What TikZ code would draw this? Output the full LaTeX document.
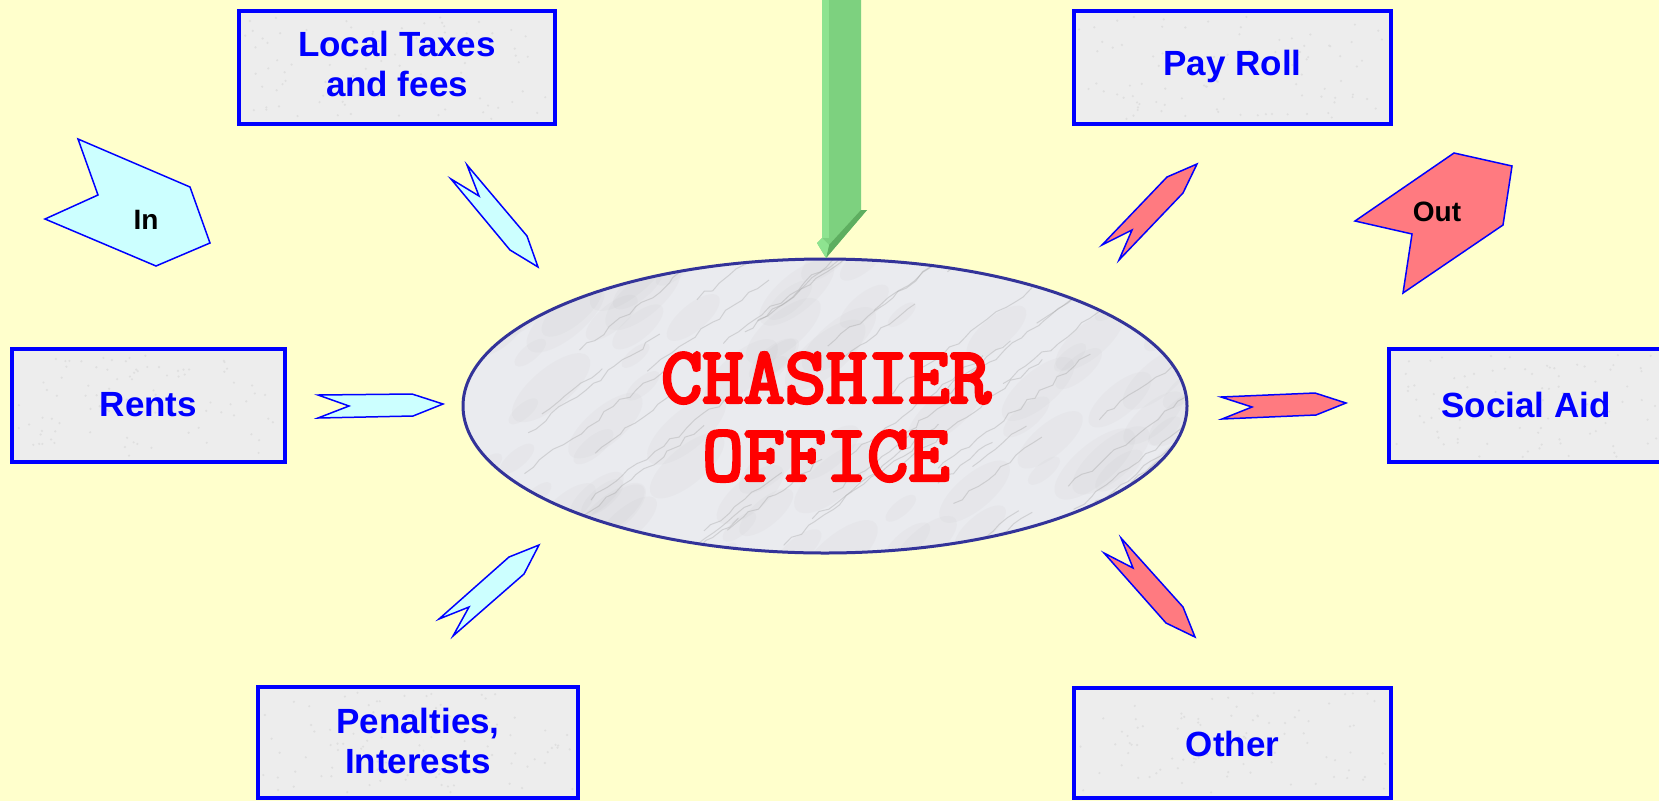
\documentclass[tikz,border=0pt]{standalone}
\usepackage{fontspec}
\setmainfont{Liberation Sans}
\newfontfamily\courfont[FakeBold=4]{Latin Modern Mono}
\usetikzlibrary{shapes.geometric,decorations.pathmorphing}
\definecolor{bg}{HTML}{FFFFCC}
\definecolor{boxblue}{HTML}{0000FF}
\definecolor{boxgray}{HTML}{EDEDED}
\definecolor{ellblue}{HTML}{333399}
\definecolor{marble}{HTML}{EAEBEF}
\definecolor{incol}{HTML}{CCFFFF}
\definecolor{outcol}{HTML}{FF7A80}
\definecolor{gmain}{HTML}{7DD17F}
\definecolor{glight}{HTML}{8EE390}
\definecolor{gdark}{HTML}{5EAE60}
\definecolor{titlered}{HTML}{FF0000}
\tikzset{
  box/.style={draw=boxblue, line width=3.5pt, fill=boxgray, inner sep=0pt},
  boxtext/.style={text=boxblue, font=\fontsize{35}{40}\selectfont\bfseries, align=center},
  inarrow/.style={draw=boxblue, fill=incol, line width=1.5pt, line join=miter},
  outarrow/.style={draw=boxblue, fill=outcol, line width=1.5pt, line join=miter},
  tagtext/.style={text=black, font=\fontsize{28}{30}\selectfont\bfseries},
  vein/.style={gray!75, line width=1pt, opacity=0.35, decorate,
    decoration={random steps, segment length=10pt, amplitude=2.5pt}},
  blob/.style={fill=gray!60, opacity=0.07}
}
\begin{document}
\begin{tikzpicture}[x=1pt,y=-1pt]
\useasboundingbox (0,0) rectangle (1659,801);
\fill[bg] (0,0) rectangle (1659,801);

% boxes
\node[box, minimum width=316pt, minimum height=113pt] (taxesbox) at (397,67.5) {};
\node[box, minimum width=317pt, minimum height=113pt] (paybox) at (1232.5,67.5) {};
\node[box, minimum width=273pt, minimum height=113pt] (rentsbox) at (148.5,405.5) {};
\node[box, minimum width=274pt, minimum height=113pt] (socialbox) at (1526,405.5) {};
\node[box, minimum width=320pt, minimum height=111pt] (penbox) at (418,742.5) {};
\node[box, minimum width=317pt, minimum height=110pt] (otherbox) at (1232.5,743) {};

% speckle texture in boxes
\pgfmathsetseed{7}
\foreach \cx/\cy/\w/\h in {397/67.5/306/103, 1232.5/67.5/307/103, 148.5/405.5/263/103, 1526/405.5/264/103, 418/742.5/310/101, 1232.5/743/307/100}{
  \foreach \k in {1,...,90}{
    \pgfmathsetmacro{\px}{\cx+(rnd-0.5)*\w}
    \pgfmathsetmacro{\py}{\cy+(rnd-0.5)*\h}
    \fill[gray!25] (\px,\py) circle (1.2pt);
  }
}

\node[boxtext] (taxes) at (397,64) {Local Taxes\\and fees};
\node[boxtext] (pay) at (1232.5,66) {Pay Roll};
\node[boxtext] (rents) at (148.5,405) {Rents};
\node[boxtext] (social) at (1526,405) {Social Aid};
\node[boxtext] (pen) at (418,741) {Penalties,\\Interests};
\node[boxtext] (other) at (1232.5,744) {Other};

% central ellipse with marble texture
\node[ellipse, fill=marble, minimum width=724pt, minimum height=294pt, inner sep=0pt] (cashier) at (825,406) {};
\begin{scope}
  \clip (825,406) ellipse [x radius=362, y radius=147];
  \pgfmathsetseed{42}
  \foreach \k in {1,...,90}{
    \pgfmathsetmacro{\bx}{460+rnd*730}
    \pgfmathsetmacro{\by}{255+rnd*305}
    \pgfmathsetmacro{\br}{15+rnd*35}
    \fill[blob, rotate around={40:(\bx,\by)}] (\bx,\by) ellipse [x radius=\br, y radius=0.4*\br];
  }
  \foreach \k in {1,...,50}{
    \pgfmathsetmacro{\vx}{460+rnd*730}
    \pgfmathsetmacro{\vy}{260+rnd*310}
    \pgfmathsetmacro{\vl}{50+rnd*110}
    \draw[vein] (\vx,\vy) -- ++(\vl,-0.75*\vl);
  }
\end{scope}
\draw[ellblue, line width=3pt] (cashier.center) ellipse [x radius=362, y radius=147];
\node[text=titlered, font=\courfont\fontsize{80}{78}\selectfont, align=center] (title) at (826,417) {CHASHIER\\OFFICE};

% green arrow from top
\fill[gmain] (822,-2) -- (861,-2) -- (861,210) -- (867,210) -- (826,258) -- (817,243) -- (822,238) -- cycle;
\fill[glight] (822,-2) -- (829,-2) -- (829,238) -- (822,238) -- cycle;
\fill[gdark] (861,210) -- (867,210) -- (826,258) -- (829,245) -- cycle;
\fill[glight] (817,243) -- (822,238) -- (829,245) -- (826,258) -- cycle;

% In / Out tags
\draw[inarrow] (78,139) -- (190,187) -- (210,243) -- (156,266) -- (45,219) -- (98,195) -- cycle;
\node[tagtext] (intag) at (146,220) {In};
\draw[outarrow] (1454,153) -- (1512,166) -- (1503,225) -- (1403,293) -- (1412,234) -- (1355,221) -- cycle;
\node[tagtext] (outtag) at (1437,212) {Out};

% incoming arrows (cyan)
\draw[inarrow] (467,165) -- (479,196) -- (451,179) -- (510,250) -- (538,267) -- (527,236) -- cycle;
\draw[inarrow] (318,395) -- (412,394) -- (443,404) -- (413,416) -- (318,418) -- (349,406) -- cycle;
\draw[inarrow] (539,545) -- (524,574) -- (453,636) -- (469,607) -- (439,619) -- (509,557) -- cycle;

% outgoing arrows (red)
\draw[outarrow] (1197,164) -- (1183,193) -- (1119,260) -- (1132,230) -- (1102,245) -- (1167,177) -- cycle;
\draw[outarrow] (1221,397) -- (1315,393) -- (1346,403) -- (1316,415) -- (1222,419) -- (1252,407) -- cycle;
\draw[outarrow] (1121,538) -- (1133,568) -- (1104,553) -- (1166,623) -- (1195,637) -- (1183,607) -- cycle;
\end{tikzpicture}
\end{document}
